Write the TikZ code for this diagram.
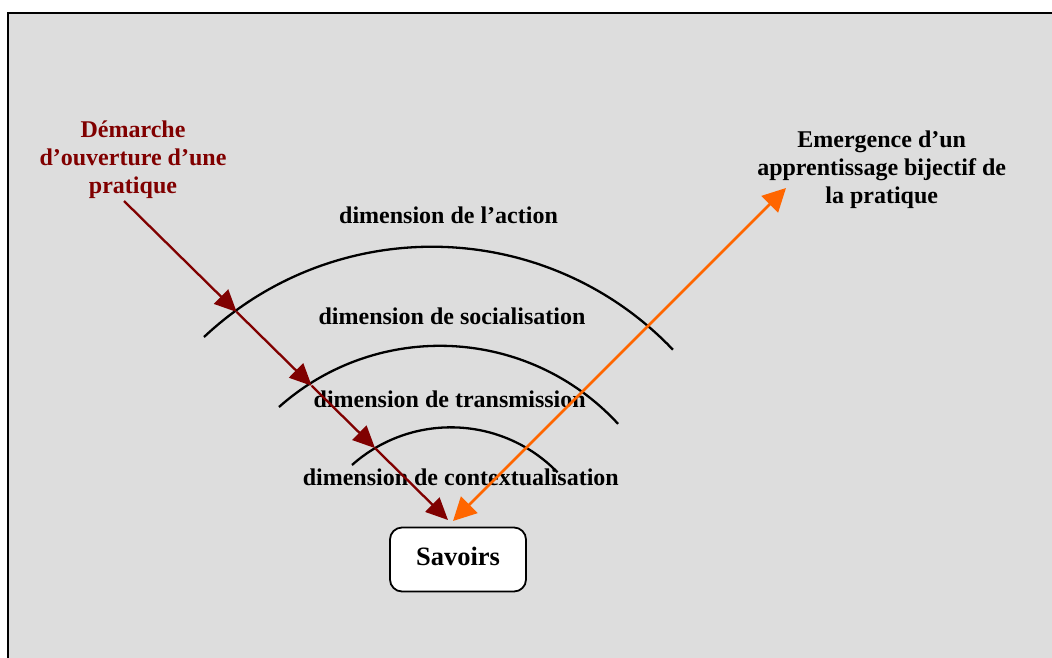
\documentclass[tikz,border=0pt]{standalone}
\usepackage{fontspec}
\setmainfont{Liberation Serif}
\usetikzlibrary{arrows.meta}
\definecolor{bggray}{HTML}{DDDDDD}
\definecolor{darkred}{HTML}{800000}
\definecolor{orangec}{HTML}{FF6600}
\begin{document}
\begin{tikzpicture}[x=1pt,y=-1pt,
  lbl/.style={inner sep=0pt, font=\fontsize{24}{27.8}\selectfont\bfseries},
  arcline/.style={draw=black, line width=2.3pt},
  redarr/.style={draw=darkred, line width=2.3pt, -{Triangle[length=22pt,width=20pt]}},
  orarr/.style={draw=orangec, line width=2.8pt, {Triangle[length=23pt,width=23pt]}-{Triangle[length=23pt,width=23pt]}},
  savbox/.style={draw, line width=1.8pt, rounded corners=12pt, fill=white,
    minimum width=136pt, minimum height=64pt, text height=18pt, text depth=7pt,
    font=\fontsize{26.5}{30}\selectfont\bfseries}]
\useasboundingbox (0,0) rectangle (1052,657);
\clip (0,0) rectangle (1052,657);
\fill[white] (0,0) rectangle (1052,657);
\draw[line width=2.4pt, fill=bggray] (8,13) rectangle (1070,680);

% arcs
\draw[arcline] (204,337) arc[start angle=-133.2, end angle=-43.7, radius=333.2];
\draw[arcline] (279,407) arc[start angle=-131.65, end angle=-42.65, radius=242.2];
\draw[arcline] (352,465) arc[start angle=-131.7, end angle=-44.2, radius=148.7];

% texts
\node[lbl, text=darkred, anchor=base] (dem) at (133,137.7)
  {\begin{tabular}[t]{@{}c@{}}Démarche\\d’ouverture d’une\\pratique\end{tabular}};
\node[lbl, anchor=base] (emer) at (881.7,147.7)
  {\begin{tabular}[t]{@{}c@{}}Emergence d’un\\apprentissage bijectif de\\la pratique\end{tabular}};
\node[lbl, anchor=base] (dact) at (448.5,223) {dimension de l’action};
\node[lbl, anchor=base] (dsoc) at (452,324) {dimension de socialisation};
\node[lbl, anchor=base] (dtra) at (449.7,407) {dimension de transmission};
\node[lbl, anchor=base] (dcon) at (460.8,485) {dimension de contextualisation};

\node[savbox] (sav) at (458,559.5) {Savoirs};

% red arrow
\coordinate (rs) at (124,201);
\coordinate (r1) at (236.7,312);
\coordinate (r2) at (311.7,385.8);
\coordinate (r3) at (375,448.1);
\coordinate (rt) at (448,520);
\draw[redarr] (rs) -- (r1);
\draw[redarr] (r1) -- (r2);
\draw[redarr] (r2) -- (r3);
\draw[redarr] (r3) -- (rt);

% orange arrow
\coordinate (ob) at (453,521);
\coordinate (ot) at (786,188);
\draw[orarr] (ob) -- (ot);
\end{tikzpicture}
\end{document}
